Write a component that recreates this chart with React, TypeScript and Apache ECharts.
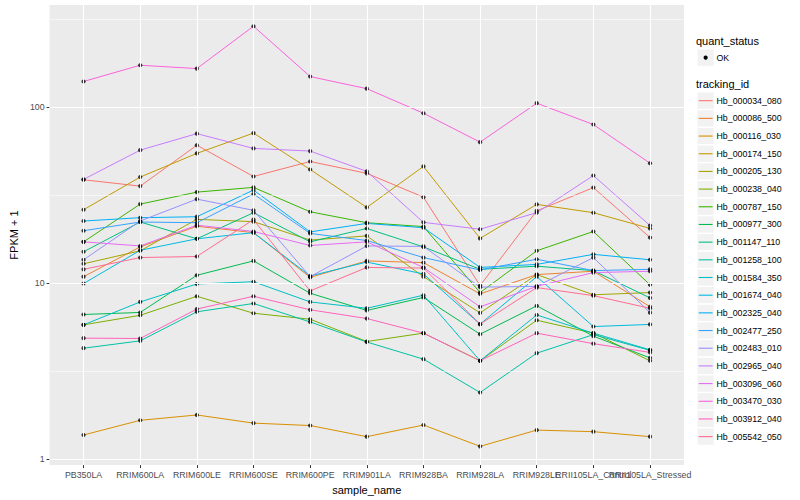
import React, { useEffect, useRef } from "react";
import * as echarts from "echarts";

const sampleNames = [
  "PB350LA", "RRIM600LA", "RRIM600LE", "RRIM600SE", "RRIM600PE", "RRIM901LA",
  "RRIM928BA", "RRIM928LA", "RRIM928LE", "RRII105LA_Control", "RRII105LA_Stressed",
];

const trackingIds = [
  "Hb_000034_080", "Hb_000086_500", "Hb_000116_030", "Hb_000174_150", "Hb_000205_130",
  "Hb_000238_040", "Hb_000787_150", "Hb_000977_300", "Hb_001147_110", "Hb_001258_100",
  "Hb_001584_350", "Hb_001674_040", "Hb_002325_040", "Hb_002477_250", "Hb_002483_010",
  "Hb_002965_040", "Hb_003096_060", "Hb_003470_030", "Hb_003912_040", "Hb_005542_050",
];

const lineColors = [
  "#F8766D", "#EA8331", "#D89000", "#C09B00", "#A3A500", "#7CAE00", "#39B600",
  "#00BB4E", "#00BF7D", "#00C1A3", "#00BFC4", "#00BAE0", "#00B0F6", "#35A2FF",
  "#9590FF", "#C77CFF", "#E76BF3", "#FA62DB", "#FF62BC", "#FF6C91",
];

const hb000034_080 = [38.8, 35.7, 61, 40.5, 49.3, 42.2, 30.9, 9.7, 25.8, 35, 18.2];
const hb000086_500 = [10.9, 16.1, 21.1, 19.4, 10.8, 13.4, 13.1, 8.7, 11.2, 11.7, 7.35];
const hb000116_030 = [1.37, 1.66, 1.78, 1.6, 1.55, 1.34, 1.56, 1.18, 1.46, 1.43, 1.34];
const hb000174_150 = [26.2, 40.2, 54.8, 71.5, 44.4, 27, 46.2, 18, 28.1, 25.2, 20.5];
const hb000205_130 = [12.9, 15.3, 23.1, 22.4, 17.6, 18.6, 10.9, 6.78, 11.2, 8.6, 8.85];
const hb000238_040 = [5.8, 6.57, 8.43, 6.75, 6.24, 4.66, 5.2, 3.62, 6.16, 5.2, 3.62];
const hb000787_150 = [17.2, 28.2, 33.0, 35.1, 25.5, 22.1, 21, 8.85, 15.3, 19.7, 9.8];
const hb000977_300 = [6.64, 6.82, 11.1, 13.4, 8.77, 7.0, 8.3, 5.13, 7.44, 5.0, 3.76];
const hb001147_110 = [15.1, 22.3, 17.9, 25.2, 17.2, 20.5, 16.1, 12.0, 12.5, 11.8, 8.25];
const hb001258_100 = [4.27, 4.7, 6.88, 7.67, 6.02, 4.63, 3.7, 2.39, 4.0, 5.1, 4.15];
const hb001584_350 = [5.8, 7.83, 9.9, 10.2, 7.83, 7.2, 8.55, 3.62, 6.6, 5.2, 4.18];
const hb001674_040 = [9.96, 15.4, 17.9, 19.4, 11.0, 13.2, 11.3, 5.85, 10.9, 5.67, 5.83];
const hb002325_040 = [22.6, 23.6, 23.9, 33.9, 19.6, 21.9, 20.7, 12.3, 12.8, 14.6, 13.6];
const hb002477_250 = [19.9, 22.3, 22.1, 32.2, 19.2, 17.5, 14.0, 11.9, 13.7, 11.8, 12.0];
const hb002483_010 = [13.6, 22.6, 30.1, 26.0, 10.9, 16.3, 16.2, 9.5, 9.6, 14.0, 6.8];
const hb002965_040 = [39, 57.2, 71, 58.5, 56.5, 43.3, 22.2, 20.3, 25.2, 41, 21.3];
const hb003096_060 = [17.2, 16.3, 21.4, 19.7, 16.4, 17.2, 12.3, 7.34, 9.6, 11.5, 11.7];
const hb003470_030 = [140.6, 174, 166.5, 290, 150, 128, 92.8, 63.5, 105.8, 80, 48.2];
const hb003912_040 = [4.87, 4.85, 7.13, 8.43, 7.06, 6.3, 5.2, 3.62, 5.2, 4.53, 4.04];
const hb005542_050 = [12.0, 14.0, 14.2, 23.0, 9.04, 12.3, 12.2, 5.85, 9.45, 8.5, 7.2];

const seriesValues = [
  hb000034_080, hb000086_500, hb000116_030, hb000174_150, hb000205_130,
  hb000238_040, hb000787_150, hb000977_300, hb001147_110, hb001258_100,
  hb001584_350, hb001674_040, hb002325_040, hb002477_250, hb002483_010,
  hb002965_040, hb003096_060, hb003470_030, hb003912_040, hb005542_050,
];

const yTickLabels = [1, 10, 100];
const yMinorBreaks = [3.162, 31.62, 316.2];
const statusLevels = ["OK"];

const FONT = '"Liberation Sans", Arial, Helvetica, sans-serif';

export default function App() {
  const ref = useRef<HTMLDivElement>(null);

  useEffect(() => {
    const chart = echarts.init(ref.current!, null, { renderer: "svg" });
    const panelLeft = 39.8;
    const panelRight = 684;
    const panelTop = 5;
    const panelBottom = 468;
    const catIdx = sampleNames.map((_, i) => i);
    // labels split over two stacked axes so that overlapping neighbours both stay visible
    const evenIdx = catIdx.filter((i) => i % 2 === 0);
    const oddIdx = catIdx.filter((i) => i % 2 === 1);

    const majorLine = { color: "#FFFFFF", width: 1.1, type: "solid" as const };
    const minorLine = { color: "#FFFFFF", width: 0.55, type: "solid" as const };

    const gridSeries: any = {
      type: "line",
      data: [],
      z: 1,
      silent: true,
      markLine: {
        silent: true,
        animation: false,
        symbol: "none",
        label: { show: false },
        emphasis: { disabled: true },
        data: [
          ...yMinorBreaks.map((v) => ({ yAxis: v, lineStyle: minorLine })),
          ...yTickLabels.map((v) => ({ yAxis: v, lineStyle: majorLine })),
          ...catIdx.map((i) => ({ xAxis: i, lineStyle: majorLine })),
        ],
      },
    };

    const lineSeries = seriesValues.map((vals, s) => ({
      type: "line",
      name: trackingIds[s],
      data: vals.map((v, i) => [i, v]),
      z: 3,
      showSymbol: false,
      symbol: "none",
      silent: true,
      lineStyle: { color: lineColors[s], width: 1 },
      itemStyle: { color: lineColors[s] },
      emphasis: { disabled: true },
    }));

    const pointSeries = {
      type: "scatter",
      z: 4,
      silent: true,
      symbol: "circle",
      symbolSize: 4.2,
      itemStyle: { color: "#000000" },
      emphasis: { disabled: true },
      data: seriesValues.flatMap((vals) => vals.map((v, i) => [i, v])),
    };

    const legendEls: any[] = [];
    legendEls.push({
      type: "text",
      x: 696,
      y: 40.7,
      style: { text: "quant_status", fontSize: 11, fontFamily: FONT, fill: "#000", verticalAlign: "middle" },
    });
    statusLevels.forEach((lv, i) => {
      const cy = 57.6 + i * 17.68;
      legendEls.push({
        type: "rect",
        shape: { x: 697, y: cy - 8.64, width: 17.28, height: 17.28 },
        style: { fill: "#F2F2F2", stroke: "#FFFFFF", lineWidth: 1 },
      });
      legendEls.push({
        type: "circle",
        shape: { cx: 705.64, cy, r: 2.1 },
        style: { fill: "#000000" },
      });
      legendEls.push({
        type: "text",
        x: 716.5,
        y: cy,
        style: { text: lv, fontSize: 8.8, fontFamily: FONT, fill: "#000", verticalAlign: "middle" },
      });
    });
    legendEls.push({
      type: "text",
      x: 696,
      y: 84.3,
      style: { text: "tracking_id", fontSize: 11, fontFamily: FONT, fill: "#000", verticalAlign: "middle" },
    });
    trackingIds.forEach((id, i) => {
      const cy = 100.7 + i * 17.68;
      legendEls.push({
        type: "rect",
        shape: { x: 697, y: cy - 8.64, width: 17.28, height: 17.28 },
        style: { fill: "#F2F2F2", stroke: "#FFFFFF", lineWidth: 1 },
      });
      legendEls.push({
        type: "line",
        shape: { x1: 698.7, y1: cy, x2: 712.6, y2: cy },
        style: { stroke: lineColors[i], lineWidth: 1.1 },
      });
      legendEls.push({
        type: "text",
        x: 716.5,
        y: cy,
        style: { text: id, fontSize: 8.8, fontFamily: FONT, fill: "#000", verticalAlign: "middle" },
      });
    });

    const makeXAxis = (vals: number[], withName: boolean) => ({
      type: "value",
      position: "bottom",
      offset: 0,
      min: -0.6,
      max: 10.6,
      name: withName ? "sample_name" : "",
      nameLocation: "middle",
      nameGap: 15,
      nameTextStyle: { fontSize: 11, color: "#000", fontFamily: FONT },
      axisLine: { show: false, onZero: false },
      axisTick: { show: true, length: 3, lineStyle: { color: "#333333", width: 1 }, customValues: vals },
      axisLabel: {
        show: true,
        customValues: vals,
        fontSize: 8.8,
        color: "#4D4D4D",
        fontFamily: FONT,
        margin: 5,
        hideOverlap: false,
        showMinLabel: true,
        showMaxLabel: true,
        formatter: (v: number) => sampleNames[Math.round(v)] ?? "",
      },
      splitLine: { show: false },
    });

    const option: any = {
      animation: false,
      backgroundColor: "#FFFFFF",
      textStyle: { fontFamily: FONT },
      grid: {
        left: panelLeft,
        right: 800 - panelRight,
        top: panelTop,
        bottom: 500 - panelBottom,
        show: true,
        backgroundColor: "#EBEBEB",
        borderWidth: 0,
        containLabel: false,
      },
      xAxis: [makeXAxis(evenIdx, true), makeXAxis(oddIdx, false)],
      yAxis: {
        type: "log",
        logBase: 10,
        min: 0.923,
        max: 383,
        name: "FPKM + 1",
        nameLocation: "middle",
        nameGap: 21,
        nameRotate: 90,
        nameTextStyle: { fontSize: 11, color: "#000", fontFamily: FONT },
        axisLine: { show: false, onZero: false },
        axisTick: { show: true, length: 3, lineStyle: { color: "#333333", width: 1 }, customValues: yTickLabels },
        axisLabel: {
          show: true,
          customValues: yTickLabels,
          fontSize: 8.8,
          color: "#4D4D4D",
          fontFamily: FONT,
          margin: 5,
          showMinLabel: true,
          showMaxLabel: true,
          formatter: (v: number) => String(Math.round(v)),
        },
        splitLine: { show: false },
        minorSplitLine: { show: false },
      },
      series: [gridSeries, ...lineSeries, pointSeries],
      graphic: { elements: legendEls },
    };

    chart.setOption(option);
    return () => chart.dispose();
  }, []);

  return (
    <div
      ref={ref}
      style={{ position: "fixed", left: 0, top: 0, width: 800, height: 500 }}
    />
  );
}
